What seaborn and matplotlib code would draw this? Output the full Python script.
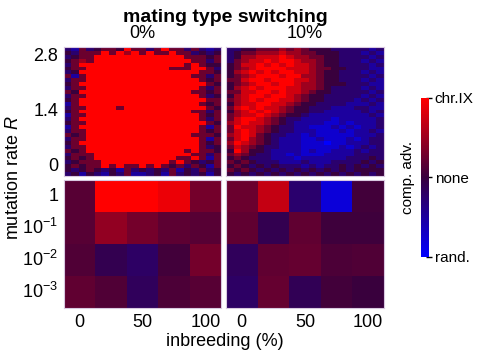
import matplotlib
matplotlib.use("Agg")
import matplotlib.pyplot as plt
from matplotlib.colors import LinearSegmentedColormap
import numpy as np
import pandas as pd
import seaborn as sns

# inbreeding (%) columns and mutation rate rows
inbreed_fine = list(range(0, 101, 5))
rate_fine = [round(3.0 - 0.1 * i, 1) for i in range(33)]
inbreed_coarse = [0, 25, 50, 75, 100]
rate_coarse = ["1", "$10^{-1}$", "$10^{-2}$", "$10^{-3}$"]

# competitive advantage, digit d -> (d - 4) / 4 ; top row = R 3.0
switch_0 = [
    "325345548553585535323",
    "435558586858558553434",
    "345588888888888855545",
    "456588888888888885535",
    "358888888888888858544",
    "455888888888885558853",
    "348888888888888888554",
    "525888888888888885535",
    "355888888888888888545",
    "458888888888888888854",
    "355888888888888888535",
    "548888888888888885545",
    "355888888888888888534",
    "458888888888888888855",
    "258888888888888888545",
    "355888858888888888854",
    "458888888888888885535",
    "255888888888888888545",
    "358888888888888888535",
    "455888888888888888854",
    "258888888888888888525",
    "355888888888888888545",
    "545888888888888885554",
    "355888888888888888525",
    "458888888888888888545",
    "355888888888888888534",
    "545888888888888858554",
    "355588888888888885535",
    "454588888888888558525",
    "345558888888885854345",
    "454558585585854535425",
    "434543425343435243534",
    "342432435223425343424",
]
switch_10 = [
    "334455565654443333323",
    "345566676655444333232",
    "346677787665544333323",
    "356778788766544333232",
    "457787878776544333323",
    "456788887776554433322",
    "467878788776544333232",
    "456788878866544333323",
    "557887888776544333232",
    "456788788766544433322",
    "467878887766543333232",
    "557788787765443333323",
    "467887887654433333232",
    "567878877654433332323",
    "467788776544333322232",
    "578787765443332223322",
    "467878765443322222323",
    "567787654432222222232",
    "578876543322221222223",
    "678776543222211212223",
    "587765433221112121223",
    "578765433222111212232",
    "678754332212111112223",
    "578654322211211121233",
    "687654322211101122233",
    "576543322211111212323",
    "486443222212112223233",
    "565433221211122223333",
    "454333222122222233343",
    "545433322232223333434",
    "454343433323233434343",
    "545434343434343434444",
    "434343434343434343434",
]
coarse_0 = [
    [0.15, 1.0, 1.0, 0.9, 0.3],
    [0.15, 0.45, 0.3, 0.18, 0.15],
    [0.12, -0.1, -0.2, 0.05, 0.3],
    [0.2, 0.12, -0.15, 0.1, 0.15],
]
coarse_10 = [
    [0.25, 0.7, -0.25, -0.8, 0.05],
    [0.2, -0.1, 0.2, 0.03, 0.03],
    [-0.15, 0.2, 0.22, 0.1, 0.12],
    [-0.2, 0.22, -0.12, 0.05, 0.0],
]


def decode(rows):
    arr = np.array([[(int(c) - 4) / 4 for c in r] for r in rows])
    return pd.DataFrame(arr, index=rate_fine, columns=inbreed_fine)


sns.set_style("white")
plt.rcParams["font.family"] = ["Liberation Sans", "DejaVu Sans"]
plt.rcParams["mathtext.fontset"] = "custom"
plt.rcParams["mathtext.rm"] = "Liberation Sans"
plt.rcParams["mathtext.it"] = "Liberation Sans:italic"
plt.rcParams["text.color"] = "black"
plt.rcParams["xtick.color"] = "black"
plt.rcParams["ytick.color"] = "black"
plt.rcParams["axes.labelcolor"] = "black"

cmap = LinearSegmentedColormap.from_list(
    "adv", [(0, 0, 1), (0.22, 0, 0.24), (1, 0, 0)])

fig = plt.figure(figsize=(4.84, 3.57), dpi=100)
W, H = 484, 357


def box(x0, y0, x1, y1):
    return [x0 / W, 1 - y1 / H, (x1 - x0) / W, (y1 - y0) / H]


ax_tl = fig.add_axes(box(64, 47, 221, 176))
ax_tr = fig.add_axes(box(226, 47, 384, 176))
ax_bl = fig.add_axes(box(64, 180, 221, 308))
ax_br = fig.add_axes(box(226, 180, 384, 308))
cax = fig.add_axes(box(421, 98, 429, 257))

kw = dict(cmap=cmap, vmin=-1, vmax=1)
sns.heatmap(decode(switch_0), ax=ax_tl, cbar=False, **kw)
sns.heatmap(decode(switch_10), ax=ax_tr, cbar=False, **kw)
sns.heatmap(pd.DataFrame(coarse_0, index=rate_coarse, columns=inbreed_coarse),
            ax=ax_bl, cbar_ax=cax, **kw)
sns.heatmap(pd.DataFrame(coarse_10, index=rate_coarse, columns=inbreed_coarse),
            ax=ax_br, cbar=False, **kw)

fs = 13
for ax in [ax_tl, ax_tr, ax_bl, ax_br]:
    ax.set_xlabel("")
    ax.set_ylabel("")
    ax.tick_params(length=0, labelsize=fs, pad=4, labelcolor="black")
    ax.set_xticks([])
    ax.set_yticks([])
    for s in ax.spines.values():
        s.set_visible(True)
        s.set_color("#d8c8e0")
        s.set_linewidth(0.8)

# y ticks of top-left
pos = [rate_fine.index(v) + 0.5 for v in [2.8, 1.4, 0.0]]
ax_tl.set_yticks(pos)
ax_tl.set_yticklabels(["2.8", "1.4", "0"], rotation=0)
ax_bl.set_yticks(np.arange(len(rate_coarse)) + 0.5)
ax_bl.set_yticklabels(rate_coarse, rotation=0)
for ax in [ax_bl, ax_br]:
    ax.set_xticks([0.5, 2.5, 4.5])
    ax.set_xticklabels(["0", "50", "100"], rotation=0)

cb = ax_bl.collections[0].colorbar
cb.set_ticks([-1, 0, 1])
cb.set_ticklabels(["rand.", "none", "chr.IX"])
cb.ax.tick_params(labelsize=11, length=4, width=1, direction="inout", pad=2,
                  color="black", labelcolor="black")
cb.outline.set_visible(False)
cb.ax.set_ylabel("comp. adv.", fontsize=11, labelpad=4, color="black")
cb.ax.yaxis.set_label_position("left")

fig.text(225 / W, 1 - 18 / H, "mating type switching", ha="center",
         va="center", fontsize=14, fontweight="bold", color="black")
fig.text(142 / W, 1 - 34 / H, "0%", ha="center", va="center", fontsize=fs)
fig.text(305 / W, 1 - 34 / H, "10%", ha="center", va="center", fontsize=fs)
fig.text(14 / W, 1 - 178 / H, "mutation rate $\\mathit{R}$", ha="center",
         va="center", rotation=90, fontsize=fs)
fig.text(225 / W, 1 - 342 / H, "inbreeding (%)", ha="center", va="center",
         fontsize=fs)

fig.savefig("out.png", dpi=100)
